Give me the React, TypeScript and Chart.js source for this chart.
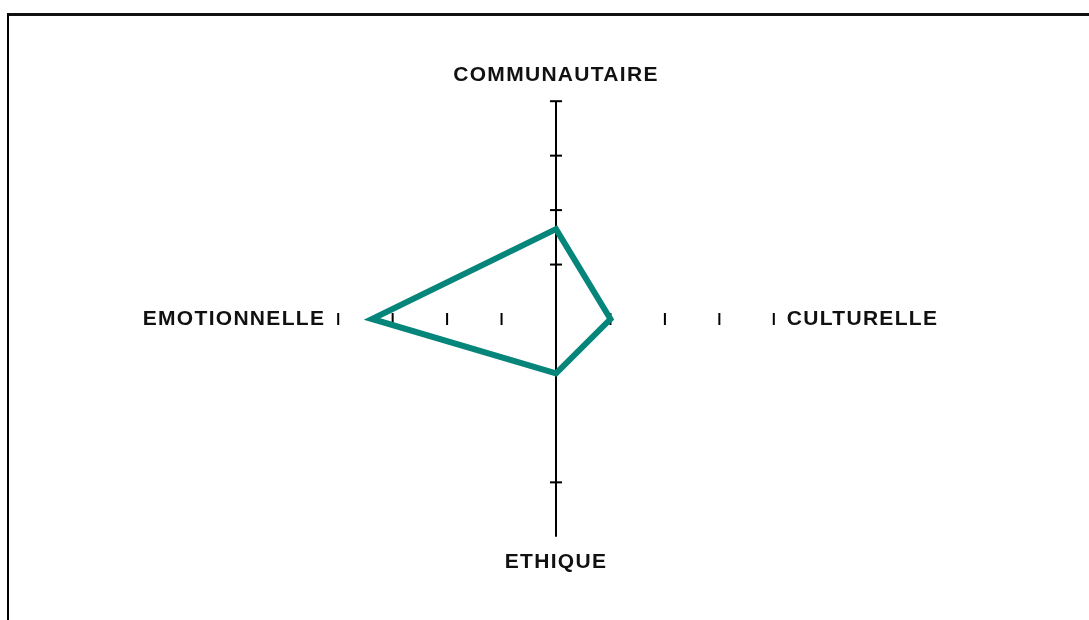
import React, { useEffect, useRef } from 'react';
import { Chart, registerables } from 'chart.js';

Chart.register(...registerables);

// ---- data ----
const categories = ['COMMUNAUTAIRE', 'CULTURELLE', 'ETHIQUE', 'EMOTIONNELLE'];
const profileValues = [1.65, 1.0, 1.0, 3.38];
const scaleMin = 0;
const scaleMax = 4;
// tick marks drawn on each spoke (in category order)
const axisTickValues = [
  [1, 2, 3, 4],
  [1, 2, 3, 4],
  [3],
  [1, 2, 3, 4],
];

const letterSpacingPlugin = {
  id: 'labelSpacing',
  beforeDraw(chart: any) {
    (chart.ctx as any).letterSpacing = '1.3px';
  },
  afterDraw(chart: any) {
    (chart.ctx as any).letterSpacing = '0px';
  },
};

const axisTicksPlugin = {
  id: 'axisTicks',
  beforeDatasetsDraw(chart: any) {
    const scale = chart.scales.r;
    const ctx = chart.ctx;
    ctx.save();
    ctx.strokeStyle = '#000';
    ctx.lineWidth = 2;
    axisTickValues.forEach((vals, i) => {
      vals.forEach((v) => {
        const p = scale.getPointPositionForValue(i, v);
        const dx = -Math.sin(p.angle);
        const dy = Math.cos(p.angle);
        const half = 6;
        ctx.beginPath();
        ctx.moveTo(p.x - dx * half, p.y - dy * half);
        ctx.lineTo(p.x + dx * half, p.y + dy * half);
        ctx.stroke();
      });
    });
    ctx.restore();
  },
};

export default function App() {
  const canvasRef = useRef<HTMLCanvasElement | null>(null);

  useEffect(() => {
    if (!canvasRef.current) return;
    const chart = new Chart(canvasRef.current, {
      type: 'radar',
      data: {
        labels: categories,
        datasets: [
          {
            data: profileValues,
            borderColor: '#06857a',
            borderWidth: 6,
            borderJoinStyle: 'miter',
            fill: false,
            pointRadius: 0,
            pointHoverRadius: 0,
            tension: 0,
          },
        ],
      },
      options: {
        animation: false,
        responsive: true,
        maintainAspectRatio: false,
        layout: { padding: { left: 23, right: 0, top: 64, bottom: 44 } },
        plugins: {
          legend: { display: false },
          tooltip: { enabled: false },
        },
        scales: {
          r: {
            min: scaleMin,
            max: scaleMax,
            ticks: { display: false, stepSize: 1 },
            grid: { display: false },
            angleLines: {
              display: true,
              lineWidth: 2,
              color: (ctx: any) => (ctx.index % 2 === 0 ? '#000' : 'rgba(0,0,0,0)'),
            },
            pointLabels: {
              display: true,
              padding: 13,
              color: '#111',
              font: { family: "'Liberation Sans', Arial, sans-serif", size: 21, weight: 'bold' },
            },
          },
        },
      },
      plugins: [letterSpacingPlugin, axisTicksPlugin],
    } as any);
    return () => chart.destroy();
  }, []);

  return (
    <div
      style={{
        position: 'absolute',
        left: 0,
        top: 0,
        width: 1089,
        height: 620,
        overflow: 'hidden',
        background: '#fff',
      }}
    >
      <div
        style={{
          position: 'absolute',
          left: 7,
          top: 13,
          width: 2000,
          height: 1000,
          borderTop: '3px solid #111',
          borderLeft: '2px solid #000',
        }}
      />
      <div style={{ position: 'absolute', left: 0, top: 0, width: 1089, height: 620 }}>
        <canvas ref={canvasRef} />
      </div>
    </div>
  );
}
